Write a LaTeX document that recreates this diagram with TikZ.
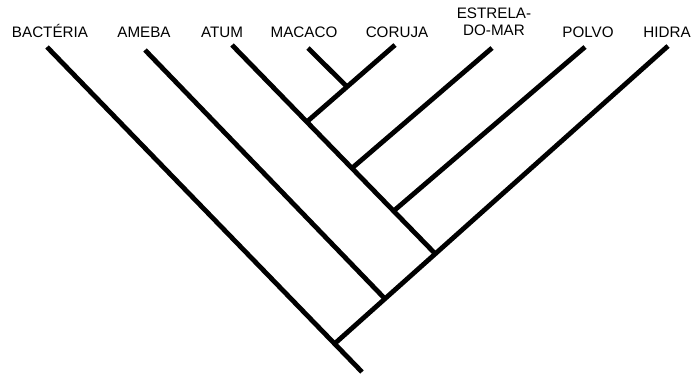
\documentclass[tikz,border=0pt]{standalone}
\usepackage{fontspec}
\setmainfont{Liberation Sans}
\usetikzlibrary{calc}

\begin{document}
\begin{tikzpicture}[x=1pt,y=-1pt,line width=4.8pt,
  taxon/.style={font=\fontsize{15.2}{17}\selectfont,inner sep=0pt}]
\useasboundingbox (0,0) rectangle (693,374);
% labels
\node [taxon,anchor=base] (bacteria) at (50,37.5) {BACTÉRIA};
\node [taxon,anchor=base] (ameba) at (144,37.5) {AMEBA};
\node [taxon,anchor=base] (atum) at (222,37.5) {ATUM};
\node [taxon,anchor=base] (macaco) at (304,37.5) {MACACO};
\node [taxon,anchor=base] (coruja) at (397,37.5) {CORUJA};
\node [taxon,align=center] (estrela) at (494,22) {ESTRELA-\\DO-MAR};
\node [taxon,anchor=base] (polvo) at (588,37.5) {POLVO};
\node [taxon,anchor=base] (hidra) at (667,37.5) {HIDRA};
% tips and branch points
\coordinate (tBac) at (47,47);
\coordinate (tAme) at (145,50);
\coordinate (tAtu) at (232,45);
\coordinate (tMac) at (308,48);
\coordinate (tCor) at (395,45);
\coordinate (tEst) at (492,48);
\coordinate (tPol) at (585,47);
\coordinate (tHid) at (668,46);
\coordinate (root) at (362,372);
\coordinate (n1) at ($(tBac)!0.913!(root)$);
\coordinate (n2) at ($(n1)!0.151!(tHid)$);
\coordinate (n3) at ($(n1)!0.302!(tHid)$);
\coordinate (n4) at ($(tAtu)!0.795!(n3)$);
\coordinate (n5) at ($(tAtu)!0.59!(n3)$);
\coordinate (n6) at ($(tAtu)!0.368!(n3)$);
\coordinate (n7) at ($(tCor)!0.544!(n6)$);
% tree
\draw (tBac) -- (root);
\draw (tHid) -- (n1);
\draw (tAme) -- (n2);
\draw (tAtu) -- (n3);
\draw (tPol) -- (n4);
\draw (tEst) -- (n5);
\draw (tCor) -- (n6);
\draw (tMac) -- (n7);

\end{tikzpicture}
\end{document}
